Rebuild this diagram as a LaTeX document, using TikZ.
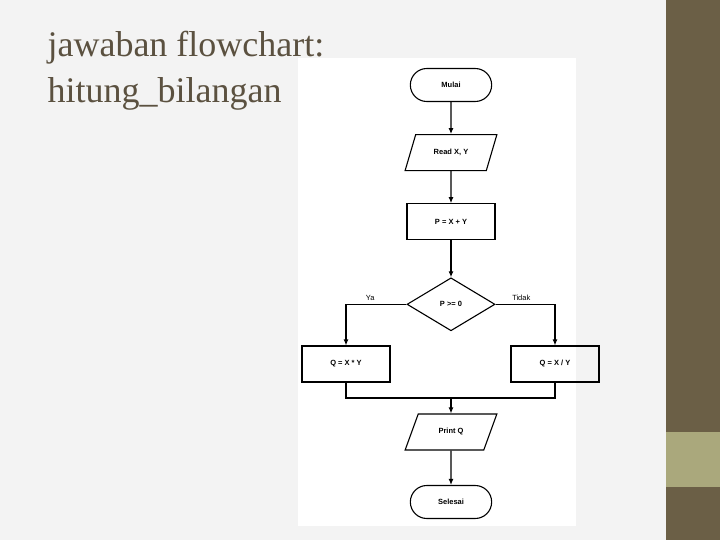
\documentclass[tikz,border=0pt]{standalone}
\usepackage{fontspec}
\setmainfont{Liberation Serif}
\newfontfamily\chartfont{Liberation Sans}
\usetikzlibrary{positioning,shapes.geometric,shapes.misc,arrows.meta}
\definecolor{slidebg}{HTML}{F3F3F3}
\definecolor{barDark}{HTML}{6B5F46}
\definecolor{barLight}{HTML}{AAA87C}
\definecolor{titlegrey}{HTML}{5B5140}
\tikzset{>={Latex[length=6pt,width=5pt]}}
\tikzset{
  base/.style={draw,line width=1.1pt,font=\chartfont\bfseries\fontsize{7.5}{9}\selectfont},
  terminal/.style={base,rounded rectangle,minimum width=88pt,minimum height=33pt},
  inout/.style={base,trapezium,trapezium left angle=65,trapezium right angle=115,
    minimum width=92pt,minimum height=36pt,trapezium stretches=true},
  process/.style={base,rectangle,minimum width=88pt,minimum height=36pt},
  decision/.style={base,diamond,aspect=1.7,minimum width=88pt,minimum height=53pt,inner sep=0pt},
  flow/.style={->,line width=1.1pt},
  heading/.style={anchor=base west,text=titlegrey,font=\fontsize{36}{38}\selectfont}
}
\begin{document}
\begin{tikzpicture}[x=1pt,y=-1pt,node distance=34pt]
\useasboundingbox (0,0) rectangle (720,540);
\fill[slidebg] (0,0) rectangle (666,540);
\fill[white] (298,58) rectangle (576,526);
\fill[barDark] (666,0) rectangle (720,432);
\fill[barLight] (666,432) rectangle (720,487);
\fill[barDark] (666,487) rectangle (720,540);
\node[heading] (title1) at (44,57) {jawaban flowchart:};
\node[heading] (title2) at (44,103) {hitung\_bilangan};
% flowchart
\node[terminal] (mulai) at (451,85) {Mulai};
\node[inout,below=of mulai,yshift=2pt] (read) {Read X, Y};
\node[process,below=32pt of read] (sum) {P = X + Y};
\node[decision,below=37pt of sum] (test) {P >= 0};
\node[process] (kali) at (346,364) {Q = X * Y};
\node[process] (bagi) at (555,364) {Q = X / Y};
\coordinate (join) at (451,398);
\node[inout] (print) at (451,432) {Print Q};
\node[terminal] (selesai) at (451,502) {Selesai};
\draw[flow] (mulai) -- (read);
\draw[flow] (read) -- (sum);
\draw[flow] (sum) -- (test);
\draw[flow] (test.west) -- node[above,font=\chartfont\fontsize{7.5}{9}\selectfont,xshift=-6pt] {Ya} (kali.north |- test.west) -- (kali.north);
\draw[flow] (test.east) -- node[above,font=\chartfont\fontsize{7.5}{9}\selectfont,xshift=-4pt] {Tidak} (bagi.north |- test.east) -- (bagi.north);
\draw[line width=1.1pt] (kali.south) |- (join) -| (bagi.south);
\draw[flow] (join) -- (print);
\draw[flow] (print) -- (selesai);
\end{tikzpicture}
\end{document}
